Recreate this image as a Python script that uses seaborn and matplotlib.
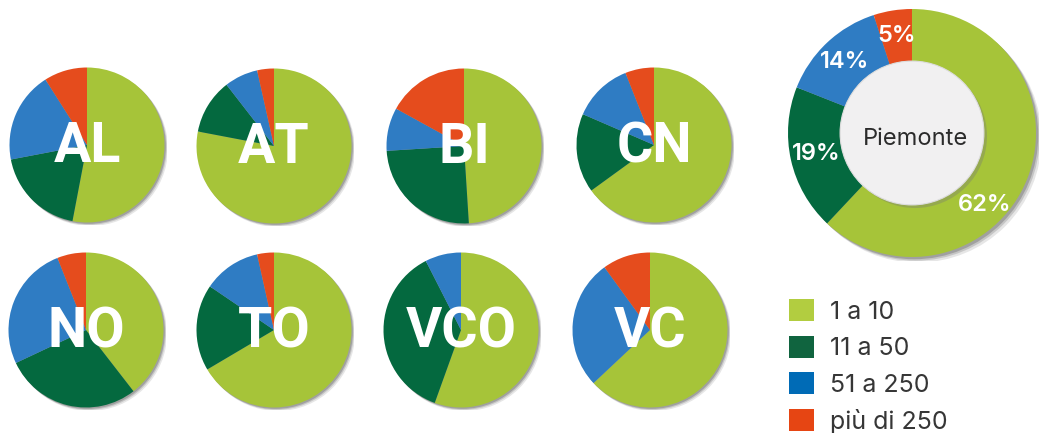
import matplotlib.pyplot as plt
import seaborn as sns
from matplotlib.patches import Circle, Patch

# quota di imprese per classe di addetti (%)
classi = ['1 a 10', '11 a 50', '51 a 250', 'più di 250']
province = ['AL', 'AT', 'BI', 'CN', 'NO', 'TO', 'VCO', 'VC']
da_1_a_10 = [53, 78, 49, 65, 39.5, 66.5, 55.5, 63]
da_11_a_50 = [19, 11.5, 25, 16.5, 28.5, 18, 37, 0]
da_51_a_250 = [19, 7, 9, 12.5, 26, 12, 7.5, 27]
oltre_250 = [9, 3.5, 17, 6, 6, 3.5, 0, 10]
piemonte = [62, 19, 14, 5]

sns.set_theme(style='white')
palette = sns.color_palette(['#a6c439', '#04693f', '#2f7cc3', '#e54c1d'])
legend_colors = sns.color_palette(['#b2cd40', '#10643f', '#006bb6', '#e64513'])

W, H = 1039, 433
fig = plt.figure(figsize=(W / 100, H / 100), dpi=100)


def pie_axes(cx, cy, r, pad=1.03):
    s = r * pad
    ax = fig.add_axes([(cx - s) / W, (H - cy - s) / H, 2 * s / W, 2 * s / H])
    return ax, pad


def shadow(ax, radius=1.0):
    for k, a in [(0.045, 0.12), (0.03, 0.18), (0.018, 0.25)]:
        ax.add_patch(Circle((k, -k), radius, facecolor='#333333', edgecolor='none',
                            alpha=a, zorder=0))


centres = [(87, 145), (274, 146), (464, 146), (654, 145),
           (86, 330), (274, 330), (461, 330), (650, 330)]
for i, nome in enumerate(province):
    valori = [da_1_a_10[i], da_11_a_50[i], da_51_a_250[i], oltre_250[i]]
    ax, pad = pie_axes(*centres[i], 77.5)
    shadow(ax)
    ax.pie(valori, colors=palette, startangle=90, counterclock=False,
           wedgeprops=dict(linewidth=0))
    ax.set_xlim(-pad, pad)
    ax.set_ylim(-pad, pad)
    ax.text(0, -0.03, nome, ha='center', va='center', color='white',
            fontsize=40, fontweight='bold', family=['Roboto', 'DejaVu Sans'])

# ciambella Piemonte
ax, pad = pie_axes(912, 133, 124)
shadow(ax)
wedges, _, pct = ax.pie(piemonte, colors=palette, startangle=90, counterclock=False,
                        wedgeprops=dict(width=0.42, linewidth=0),
                        autopct='%d%%', pctdistance=0.79,
                        textprops=dict(color='white', fontsize=17, fontweight='semibold',
                                       family=['Inter', 'DejaVu Sans']))
pct[0].set_position((0.59, -0.58))
ax.add_patch(Circle((0.025, -0.025), 0.58, facecolor='#777777', edgecolor='none',
                    alpha=0.35, zorder=2))
ax.add_patch(Circle((0, 0), 0.58, facecolor='#f1f0f1', edgecolor='#dddddd',
                    linewidth=0.8, zorder=3))
ax.text(0.03, -0.05, 'Piemonte', ha='center', va='center', color='#2b2b2b',
        fontsize=17, family=['Inter', 'DejaVu Sans'], zorder=4)
ax.set_xlim(-pad, pad)
ax.set_ylim(-pad, pad)

handles = [Patch(facecolor=c, edgecolor='none') for c in legend_colors]
fig.legend(handles, classi, loc='upper left', bbox_to_anchor=(789 / W, 1 - 299 / H),
           frameon=False, borderpad=0, borderaxespad=0,
           handlelength=1.0, handleheight=1.0, handletextpad=0.62,
           labelspacing=0.47, labelcolor='#363636',
           prop=dict(family=['Inter', 'DejaVu Sans'], size=18))

fig.savefig('out.png', dpi=100)
